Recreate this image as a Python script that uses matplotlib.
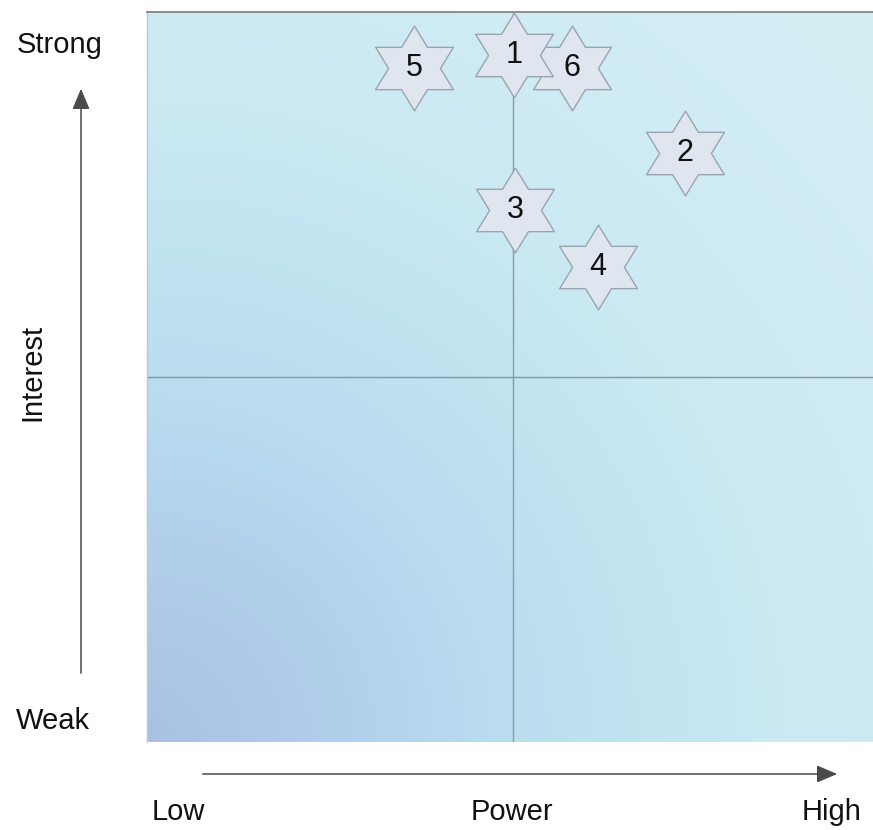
import numpy as np
import matplotlib.pyplot as plt
from matplotlib.path import Path
from matplotlib.patches import FancyArrowPatch
from matplotlib.colors import LinearSegmentedColormap

plt.rcParams['font.family'] = ['Liberation Sans', 'DejaVu Sans']

# stakeholder positions on the power / interest grid (0-10 scale)
labels = ['5', '6', '1', '2', '3', '4']
power = [3.68, 5.85, 5.05, 7.41, 5.07, 6.21]
interest = [9.23, 9.23, 9.41, 8.07, 7.29, 6.51]

fig = plt.figure(figsize=(8.73, 8.30), dpi=100)
ax = fig.add_axes([147 / 873, 88 / 830, 726 / 873, 730 / 830])
ax.set_xlim(0, 10)
ax.set_ylim(0, 10)

# radial background shading out of the lower-left corner
u, v = np.meshgrid(np.linspace(0, 1, 400), np.linspace(0, 1, 400))
t = np.sqrt(u ** 2 + v ** 2) / np.sqrt(2)
bg = LinearSegmentedColormap.from_list('bg', [
    (0.0, '#a9c1e3'), (0.2, '#b2d0ec'), (0.35, '#badef0'),
    (0.5, '#c2e5f1'), (0.65, '#cceaf3'), (1.0, '#d5eef4')])
ax.imshow(t, cmap=bg, origin='lower', extent=(0, 10, 0, 10),
          aspect='auto', vmin=0, vmax=1, zorder=0)

ax.axvline(5.04, color='#8a9aa2', lw=1.0, zorder=1)
ax.axhline(5.0, color='#8a959c', lw=1.0, zorder=1)

# six-pointed star marker (two overlapping triangles)
ang_out = np.deg2rad(90 + 60 * np.arange(6))
ang_in = ang_out + np.deg2rad(30)
verts = []
for a, b in zip(ang_out, ang_in):
    verts.append((1.06 * np.cos(a), np.sin(a)))
    verts.append((1.06 * np.cos(b) / np.sqrt(3), np.sin(b) / np.sqrt(3)))
verts.append(verts[0])
star = Path(verts, closed=True)

for lab, x, y in zip(labels, power, interest):
    ax.scatter([x], [y], marker=star, s=61 ** 2, facecolor='#dfe6f0',
               edgecolor='#9aa4b0', linewidth=1.0, zorder=3)
    ax.text(x, y, lab, ha='center', va='center', fontsize=22,
            color='#111111', zorder=4)

ax.set_xticks([])
ax.set_yticks([])
for side in ['bottom', 'right']:
    ax.spines[side].set_visible(False)
ax.spines['top'].set_color('#8c8c8c')
ax.spines['top'].set_linewidth(1.4)
ax.spines['left'].set_color('#b8c8d8')
ax.spines['left'].set_linewidth(1.0)

# axis captions and arrows in figure pixels
def fx(px):
    return px / 873

def fy(py):
    return 1 - py / 830

txt = dict(fontsize=21, color='#111111', ha='center', va='center')
fig.text(fx(60), fy(45), 'Strong', **txt)
fig.text(fx(53), fy(721), 'Weak', **txt)
fig.text(fx(32), fy(372), 'Interest', rotation=90, **txt)
fig.text(fx(178), fy(812), 'Low', **txt)
fig.text(fx(512), fy(812), 'Power', **txt)
fig.text(fx(832), fy(812), 'High', **txt)

arrow = dict(arrowstyle='-|>,head_length=0.9,head_width=0.38',
             color='#4a4a4a', lw=1.1)
fig.add_artist(FancyArrowPatch(
    (fx(81), fy(676)), (fx(81), fy(86)), transform=fig.transFigure,
    mutation_scale=14, **arrow))
fig.add_artist(FancyArrowPatch(
    (fx(200), fy(774)), (fx(840), fy(774)), transform=fig.transFigure,
    mutation_scale=14, **arrow))

fig.savefig('out.png', dpi=100, facecolor='white')
